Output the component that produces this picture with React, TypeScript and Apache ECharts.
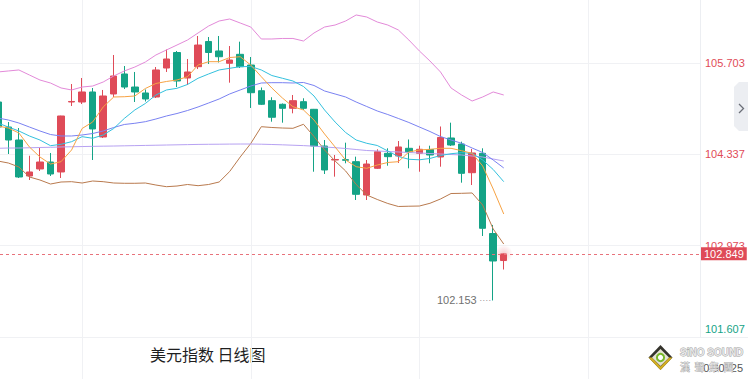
import React, { useEffect, useRef } from "react";
import * as echarts from "echarts";

// ---------- data ----------
const opens = [105.120,104.746,104.552,104.014,104.119,104.223,104.074,105.120,105.120,105.270,104.597,105.240,105.539,105.344,105.255,105.195,105.628,105.860,105.479,105.648,106.025,105.883,105.699,105.833,105.673,105.289,105.140,105.086,105.026,105.125,105.011,104.462,104.253,104.258,104.228,103.730,104.129,104.353,104.313,104.428,104.353,104.410,104.298,104.582,104.492,104.063,104.353,103.154,102.751];
const closes = [104.746,104.552,103.999,104.074,104.223,104.044,104.911,105.128,105.270,104.717,105.210,105.509,105.344,105.270,105.165,105.599,105.763,105.434,105.569,105.972,105.860,105.797,105.748,105.648,105.259,105.086,104.892,105.026,105.140,105.026,104.462,104.104,104.261,104.249,103.740,104.193,104.377,104.303,104.448,104.373,104.413,104.328,104.590,104.477,104.054,104.358,103.232,102.743,102.849];
const lows = [104.702,104.343,103.984,103.954,104.089,104.014,103.984,105.060,105.090,104.253,104.582,105.195,105.314,105.120,105.128,105.180,105.569,105.344,105.374,105.613,105.688,105.711,105.409,105.628,105.031,105.075,104.826,104.811,104.951,105.001,104.078,104.044,104.004,104.204,103.655,103.655,104.119,104.168,104.208,104.129,104.078,104.204,104.153,104.462,103.914,103.879,103.117,102.153,102.616];
const highs = [105.150,104.821,104.731,104.317,104.432,104.358,104.915,105.389,105.479,105.329,105.300,105.823,105.658,105.569,105.307,105.643,105.905,105.883,105.763,106.107,106.092,106.107,105.957,106.022,105.793,105.337,105.191,105.098,105.225,105.176,105.016,104.552,104.328,104.512,104.303,104.253,104.413,104.428,104.537,104.560,104.467,104.467,104.754,104.811,104.527,104.418,104.428,103.282,102.855];

const upperBand = [105.569,105.584,105.599,105.524,105.449,105.404,105.330,105.300,105.344,105.359,105.419,105.509,105.584,105.643,105.718,105.823,105.898,105.972,106.047,106.152,106.256,106.331,106.361,106.301,106.241,106.062,106.062,106.070,106.070,106.032,106.152,106.241,106.271,106.331,106.421,106.391,106.316,106.271,106.197,106.047,105.883,105.733,105.569,105.330,105.225,105.135,105.195,105.270,105.225];
const lowerBand = [104.238,104.208,104.149,103.999,103.954,103.894,103.924,103.929,103.909,103.939,103.929,103.909,103.905,103.905,103.909,103.879,103.854,103.864,103.887,103.869,103.887,103.924,104.081,104.298,104.500,104.751,104.739,104.731,104.727,104.787,104.604,104.403,104.238,104.089,103.887,103.730,103.663,103.603,103.558,103.562,103.565,103.606,103.670,103.752,103.755,103.760,103.580,103.222,102.997];
const ma5 = [104.761,104.731,104.657,104.448,104.298,104.193,104.228,104.403,104.724,104.821,105.046,105.195,105.199,105.210,105.322,105.397,105.427,105.449,105.498,105.673,105.723,105.723,105.785,105.797,105.673,105.498,105.329,105.180,105.050,105.001,104.851,104.642,104.448,104.253,104.153,104.129,104.178,104.216,104.228,104.373,104.403,104.413,104.428,104.428,104.392,104.353,104.164,103.820,103.446];
const ma10 = [104.806,104.746,104.687,104.612,104.552,104.467,104.488,104.527,104.602,104.578,104.627,104.724,104.874,105.001,105.098,105.225,105.300,105.325,105.382,105.475,105.539,105.599,105.624,105.648,105.651,105.599,105.516,105.475,105.434,105.352,105.210,105.001,104.821,104.664,104.552,104.503,104.470,104.388,104.306,104.264,104.256,104.276,104.320,104.347,104.362,104.353,104.253,104.111,103.929];
const ma20 = [104.881,104.851,104.806,104.746,104.687,104.634,104.612,104.612,104.627,104.649,104.687,104.739,104.784,104.802,104.826,104.866,104.911,104.948,104.993,105.046,105.105,105.165,105.240,105.300,105.359,105.404,105.409,105.409,105.404,105.412,105.367,105.285,105.240,105.195,105.120,105.053,104.986,104.933,104.874,104.814,104.746,104.679,104.604,104.552,104.503,104.432,104.365,104.253,104.134];
const ma60 = [104.428,104.432,104.432,104.436,104.440,104.443,104.448,104.451,104.454,104.457,104.460,104.462,104.465,104.468,104.471,104.474,104.477,104.480,104.483,104.486,104.488,104.489,104.491,104.492,104.492,104.489,104.485,104.480,104.474,104.468,104.460,104.448,104.437,104.425,104.410,104.395,104.388,104.380,104.373,104.365,104.358,104.350,104.343,104.335,104.328,104.313,104.298,104.268,104.238];

const priceTicks = [101.607, 102.973, 104.337, 105.703];
const timeGridTicks = [8, 24, 40, 56];
const yMin = 101.607;
const yMax = 106.645;
const xMin = 0.209;
const xMax = 66.62;
const subPaneValue = "0.60725";
const chartTitle = "美元指数 日线图";

// ---------- styles ----------
const RED = "#df4b58";
const GREEN = "#14a386";
const GRID = "#f0f1f4";
const NUM_FONT = "'Liberation Sans', Arial, sans-serif";
const CJK_FONT = "'Noto Sans CJK SC', sans-serif";

export default function App() {
  const ref = useRef<HTMLDivElement>(null);

  useEffect(() => {
    if (!ref.current) return;
    const chart = echarts.init(ref.current, null, { renderer: "svg" });

    const candleData = opens.map((o, i) => [i, o, closes[i], lows[i], highs[i]]);
    const lastIndex = closes.length - 1;
    const lastPrice = closes[lastIndex];
    const lowPrice = Math.min(...lows);
    const lowIndex = lows.indexOf(lowPrice);

    const lineSeries = (data: number[], color: string) => ({
      type: "line",
      data: data.map((v, i) => [i, v]),
      xAxisIndex: 0,
      yAxisIndex: 0,
      symbol: "none",
      silent: true,
      z: 3,
      lineStyle: { width: 1, color },
      itemStyle: { color },
    });

    const xAxisBase = (gridIndex: number) => ({
      type: "value",
      gridIndex,
      min: xMin,
      max: xMax,
      axisLine: { show: false },
      axisTick: { show: false, customValues: timeGridTicks },
      axisLabel: { show: false, customValues: timeGridTicks },
      splitLine: { show: true, customValues: timeGridTicks, lineStyle: { color: GRID, width: 1 } },
    });

    const option = {
      animation: false,
      backgroundColor: "#ffffff",
      grid: [
        { left: 0, right: 48, top: 0, bottom: 42 },
        { left: 0, right: 48, top: 337, bottom: 0 },
      ],
      xAxis: [xAxisBase(0), xAxisBase(1)],
      yAxis: [
        {
          type: "value",
          gridIndex: 0,
          position: "right",
          min: yMin,
          max: yMax,
          axisLine: { show: true, lineStyle: { color: "#eceef2" } },
          axisTick: { show: false, customValues: priceTicks },
          splitLine: { show: true, customValues: priceTicks, lineStyle: { color: GRID } },
          axisLabel: {
            show: true,
            customValues: priceTicks,
            showMinLabel: true,
            showMaxLabel: true,
            margin: 5,
            formatter: (v: number) => {
              const s = v.toFixed(3);
              return v < 102 ? `{g|${s}}\n{e| }` : `{r|${s}}`;
            },
            rich: {
              r: { color: RED, fontSize: 11, lineHeight: 14, fontFamily: NUM_FONT },
              g: { color: GREEN, fontSize: 11, lineHeight: 14, fontFamily: NUM_FONT },
              e: { fontSize: 11, lineHeight: 16 },
            },
          },
        },
        { type: "value", gridIndex: 1, show: false, min: 0, max: 1 },
      ],
      series: [
        {
          type: "scatter",
          xAxisIndex: 0,
          yAxisIndex: 0,
          silent: true,
          z: 1,
          symbolSize: 18,
          data: [[lastIndex, lastPrice]],
          itemStyle: {
            color: {
              type: "radial",
              x: 0.5,
              y: 0.5,
              r: 0.5,
              colorStops: [
                { offset: 0, color: "rgba(223,75,88,0.35)" },
                { offset: 1, color: "rgba(223,75,88,0)" },
              ],
            },
          },
        },
        {
          type: "candlestick",
          xAxisIndex: 0,
          yAxisIndex: 0,
          data: candleData,
          encode: { x: 0, y: [1, 2, 3, 4] },
          barWidth: 7,
          z: 2,
          itemStyle: {
            color: RED,
            color0: GREEN,
            borderColor: RED,
            borderColor0: GREEN,
            borderWidth: 1,
          },
          markLine: {
            silent: true,
            symbol: ["none", "none"],
            animation: false,
            data: [{ yAxis: lastPrice }],
            lineStyle: { color: "#e8727b", type: [3, 3], width: 1 },
            label: {
              show: true,
              position: "end",
              distance: 1,
              formatter: lastPrice.toFixed(3),
              color: "#ffffff",
              backgroundColor: RED,
              padding: [1, 3, 0, 3],
              fontSize: 11,
              lineHeight: 12,
              fontFamily: NUM_FONT,
            },
          },
          markPoint: {
            silent: true,
            symbol: "circle",
            symbolSize: 0,
            animation: false,
            data: [{ coord: [lowIndex, lowPrice], value: lowPrice }],
            label: {
              show: true,
              position: "left",
              distance: 2,
              formatter: `{v|${lowPrice.toFixed(3)}}{d| ····}`,
              rich: {
                v: { color: "#707070", fontSize: 11, fontFamily: NUM_FONT },
                d: { color: "#9a9a9a", fontSize: 9, fontFamily: NUM_FONT },
              },
            },
          },
        },
        lineSeries(upperBand, "#e38ad9"),
        lineSeries(lowerBand, "#b97a4e"),
        lineSeries(ma60, "#b7a2f2"),
        lineSeries(ma20, "#7a82f2"),
        lineSeries(ma10, "#33c1de"),
        lineSeries(ma5, "#f7a344"),
      ],
      graphic: [
        {
          type: "line",
          silent: true,
          shape: { x1: 0, y1: 337.5, x2: 748, y2: 337.5 },
          style: { stroke: "#eef0f3", lineWidth: 1 },
        },
        {
          type: "polygon",
          silent: true,
          shape: { points: [[734, 87], [739, 82], [748, 82], [748, 131], [739, 131], [734, 126]] },
          style: { fill: "#eceef2" },
        },
        {
          type: "polyline",
          silent: true,
          shape: { points: [[739, 104], [743.5, 108.5], [739, 113]] },
          style: { stroke: "#6b6f78", lineWidth: 1.3, fill: null },
        },
        {
          type: "text",
          silent: true,
          x: 150,
          y: 354,
          style: {
            text: chartTitle,
            fontSize: 16,
            fill: "#1f1f1f",
            verticalAlign: "middle",
            fontFamily: CJK_FONT,
          },
        },
        {
          type: "text",
          silent: true,
          x: 743,
          y: 368,
          style: {
            text: subPaneValue,
            fontSize: 11,
            fill: "#555555",
            align: "right",
            verticalAlign: "middle",
            fontFamily: NUM_FONT,
          },
        },
        {
          type: "polygon",
          silent: true,
          shape: { points: [[660.5, 345], [672.5, 357.5], [660.5, 370], [648.5, 357.5]] },
          style: { fill: "#34332c" },
        },
        {
          type: "polygon",
          silent: true,
          shape: { points: [[648.5, 357.5], [660.5, 370], [672.5, 357.5], [669, 357.5], [660.5, 366.5], [652, 357.5]] },
          style: { fill: "#d2ae22" },
        },
        {
          type: "polygon",
          silent: true,
          shape: { points: [[660.5, 349], [669, 357.5], [660.5, 366], [652, 357.5]] },
          style: { fill: "#e6e3d4" },
        },
        {
          type: "circle",
          silent: true,
          shape: { cx: 660.5, cy: 357.5, r: 3.6 },
          style: { fill: "#ffffff", stroke: "#78b82a", lineWidth: 2 },
        },
        {
          type: "text",
          silent: true,
          x: 680,
          y: 352,
          style: {
            text: "SiNO SOUND",
            fontSize: 10,
            fontWeight: "bold",
            fill: "#e6e6e6",
            stroke: "#9a9a9a",
            lineWidth: 0.8,
            verticalAlign: "middle",
            fontFamily: NUM_FONT,
          },
        },
        {
          type: "text",
          silent: true,
          x: 680,
          y: 366,
          style: {
            text: "漢  聲  集  團",
            fontSize: 10,
            fill: "#e6e6e6",
            stroke: "#a0a0a0",
            lineWidth: 0.6,
            verticalAlign: "middle",
            fontFamily: CJK_FONT,
          },
        },
      ],
    };

    chart.setOption(option as any);
    return () => chart.dispose();
  }, []);

  return (
    <div
      ref={ref}
      style={{ position: "absolute", left: 0, top: 0, width: 748, height: 379, background: "#fff" }}
    />
  );
}
